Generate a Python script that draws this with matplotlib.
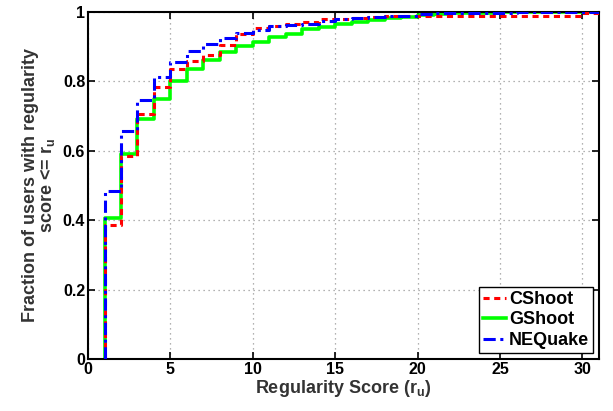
import matplotlib
matplotlib.use('Agg')
import matplotlib.pyplot as plt
import numpy as np

plt.rcParams['font.family'] = 'Liberation Sans'
plt.rcParams['font.weight'] = 'bold'
plt.rcParams['mathtext.fontset'] = 'custom'
plt.rcParams['mathtext.rm'] = 'Liberation Sans:bold'
plt.rcParams['mathtext.it'] = 'Liberation Sans:bold'
plt.rcParams['mathtext.bf'] = 'Liberation Sans:bold'

# regularity score r_u = 1..31, CDF value from r_u to r_u+1
scores = np.arange(1, 32)
cshoot = [0.386, 0.585, 0.705, 0.784, 0.835, 0.858, 0.876, 0.904, 0.937, 0.952,
          0.959, 0.964, 0.971, 0.978, 0.980, 0.983, 0.985, 0.987, 0.988, 0.988,
          0.988, 0.988, 0.988, 0.989, 0.989, 0.989, 0.989, 0.989, 0.989, 0.997, 0.997]
gshoot = [0.405, 0.590, 0.691, 0.750, 0.801, 0.835, 0.862, 0.883, 0.901, 0.913,
          0.926, 0.937, 0.949, 0.956, 0.964, 0.970, 0.976, 0.981, 0.986, 0.990,
          0.993, 0.995, 0.996, 0.997, 0.998, 0.998, 0.999, 0.999, 1.0, 1.0, 1.0]
nequake = [0.484, 0.657, 0.745, 0.811, 0.855, 0.887, 0.906, 0.924, 0.939, 0.947,
           0.958, 0.961, 0.966, 0.974, 0.978, 0.981, 0.984, 0.987, 0.989, 0.992,
           0.996, 0.997, 0.997, 0.997, 0.997, 0.998, 0.998, 0.998, 0.998, 0.998, 0.998]

fig = plt.figure(figsize=(6.13, 4.11), dpi=100)
ax = fig.add_axes([0.1436, 0.1265, 0.8334, 0.845])

x = np.r_[scores[0], scores]
ax.plot(x, np.r_[0, cshoot], drawstyle='steps-post', color='red', lw=2.2,
        ls=(0, (2, 1.5)), label='CShoot', zorder=3)
ax.plot(x, np.r_[0, gshoot], drawstyle='steps-post', color='#00ff00', lw=2.6,
        ls='-', label='GShoot', zorder=2)
ax.plot(x, np.r_[0, nequake], drawstyle='steps-post', color='blue', lw=2.2,
        ls=(0, (4, 1.5, 1, 1.5)), label='NEQuake', zorder=4)

ax.set_xlim(0, 31)
ax.set_ylim(0, 1)
ax.set_xticks([0, 5, 10, 15, 20, 25, 30])
ax.set_yticks([0, 0.2, 0.4, 0.6, 0.8, 1])
ax.set_yticklabels(['0', '0.2', '0.4', '0.6', '0.8', '1'])
ax.tick_params(direction='in', top=True, right=True, labelsize=11.5, width=1.2, length=5, pad=2)
ax.grid(True, color='#999999', ls=(0, (1, 3)), lw=0.9)
for s in ax.spines.values():
    s.set_linewidth(1.5)

ax.set_xlabel('Regularity Score (r$_\\mathbf{u}$)', fontsize=13, fontweight='bold', labelpad=1)
ax.set_ylabel('Fraction of users with regularity\nscore <= r$_\\mathbf{u}$', fontsize=13,
              fontweight='bold', color='#333333', linespacing=0.95, labelpad=4)
ax.xaxis.label.set_color('#333333')

leg = ax.legend(loc='lower right', fontsize=13, handlelength=1.3, handletextpad=0.15,
                borderpad=0.2, labelspacing=0.2, fancybox=False, framealpha=1,
                borderaxespad=0.35)
leg.get_frame().set_edgecolor('black')
leg.get_frame().set_linewidth(1.0)

fig.savefig('out.png', dpi=100)
